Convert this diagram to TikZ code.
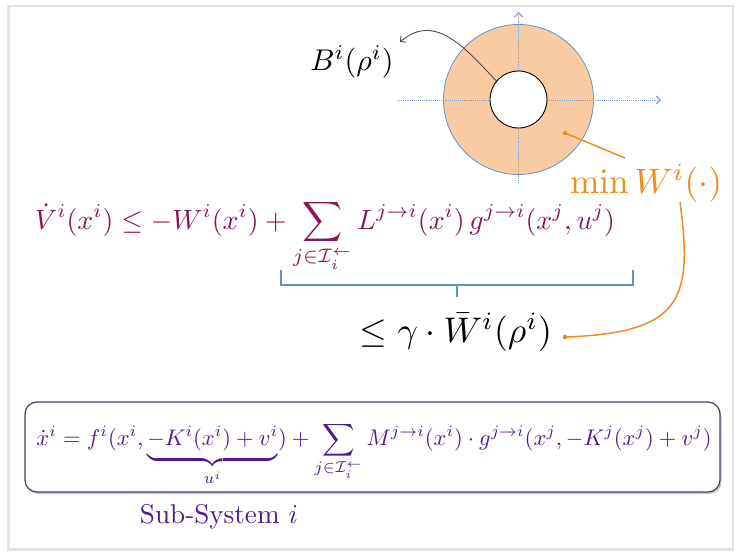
\documentclass[tikz,border=0pt]{standalone}
\usepackage{amsmath,amssymb}
\usetikzlibrary{arrows.meta,shadows}
\definecolor{eqone}{RGB}{135,22,88}
\definecolor{eqtwo}{RGB}{80,25,140}
\definecolor{boxline}{RGB}{70,60,100}
\definecolor{axisblue}{RGB}{125,160,205}
\definecolor{ringfill}{RGB}{249,203,163}
\definecolor{ringline}{RGB}{100,145,200}
\definecolor{orng}{RGB}{240,140,30}
\definecolor{brblue}{RGB}{95,145,200}
\begin{document}
\begin{tikzpicture}[x=1pt,y=-1pt,
  axisline/.style={axisblue, densely dotted, line width=0.9pt, -{Straight Barb[length=4pt,width=8pt,line width=1.2pt]}},
  orngline/.style={orng, line width=1.5pt},
  lbl/.style={inner sep=0pt},
  ]
\useasboundingbox (0,0) rectangle (735,551);
\draw[gray!22, line width=2.5pt] (8.5,6) rectangle (733,549.5);

% ring
\node[circle, minimum size=150pt, fill=ringfill, draw=ringline, line width=0.8pt, inner sep=0pt] (ring) at (518.5,99.5) {};
\coordinate (xs) at (397,100);
\coordinate (xe) at (661,100);
\coordinate (ys) at (518.5,183);
\coordinate (ye) at (518.5,12);
\draw[axisline] (xs) -- (xe);
\draw[axisline] (ys) -- (ye);
\node[circle, minimum size=57pt, fill=white, draw=black, line width=0.9pt, inner sep=0pt] (hole) at (518.5,99.5) {};

% B label and arrow
\node[lbl] (blab) at (352,62) {\resizebox{83pt}{!}{$B^i(\rho^i)$}};
\coordinate (btip) at (400,42);
\draw[black!70, line width=0.9pt, -{Straight Barb[length=4pt,width=8pt]}] (hole.140) .. controls (465,48) and (435,12) .. (btip);

% min W label
\node[lbl, text=orng] (wlab) at (646,183) {\resizebox{152pt}{!}{$\min W^i(\cdot)$}};
\coordinate (wdot) at (565,133);
\coordinate (wend) at (625,158);
\fill[orng] (wdot) circle (2.3pt);
\draw[orngline] (wdot) -- (wend);

% equation 1
\node[lbl, text=eqone] (eqA) at (325,236) {\resizebox{580pt}{!}{$\displaystyle \dot V^i(x^i) \le -W^i(x^i) + \sum_{j\in\mathcal{I}_i^{\leftarrow}} L^{j\to i}(x^i)\, g^{j\to i}(x^j,u^j)$}};

% bracket
\coordinate (bl) at (281,270);
\coordinate (br) at (633,270);
\coordinate (bm) at (457,285);
\coordinate (bt) at (457,297);
\draw[brblue, line width=1.6pt] (bl) |- (bm) -| (br);
\draw[brblue, line width=1.6pt] (bm) -- (bt);

% gamma bound
\node[lbl] (gam) at (456,332) {\resizebox{192pt}{!}{$\le \gamma\cdot \bar W^i(\rho^i)$}};
\coordinate (cstart) at (680,202);
\coordinate (cend) at (565,337);
\draw[orngline] (cstart) .. controls (693,300) and (682,333) .. (cend);
\fill[orng] (cend) circle (2.3pt);

% subsystem box
\node[draw=boxline, line width=1.2pt, rounded corners=12pt, minimum width=695pt, minimum height=90pt, fill=white,
      drop shadow={shadow xshift=1.5pt, shadow yshift=-2pt, opacity=0.45}] (box) at (372.5,447) {};
\node[lbl, text=eqtwo] (eqB) at (374,454) {\resizebox{675pt}{!}{$\displaystyle \dot x^i = f^i(x^i, \underbrace{-K^i(x^i)+v^i}_{u^i}) + \sum_{j\in\mathcal{I}_i^{\leftarrow}} M^{j\to i}(x^i)\cdot g^{j\to i}(x^j,-K^j(x^j)+v^j)$}};
\node[lbl, text=eqtwo] (sub) at (219,517) {\resizebox{158pt}{!}{Sub-System $i$}};
\end{tikzpicture}
\end{document}
